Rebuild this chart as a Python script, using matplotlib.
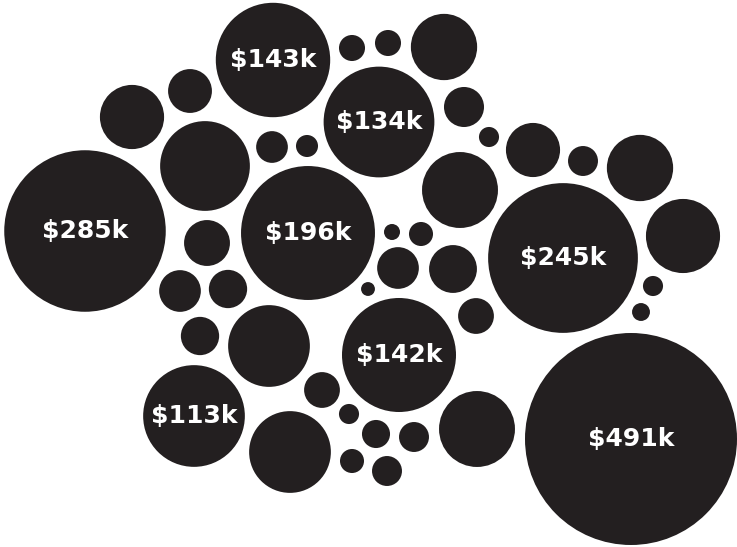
# bubble_cluster.py
# Packed bubble cluster of dollar amounts (area scaled to value)

import matplotlib
matplotlib.use("Agg")
import matplotlib.pyplot as plt
from matplotlib.patches import Circle
import numpy as np

# ---------------- data (values in $k)
values = [143, 7.4, 21, 45, 88, 11, 5.3, 134, 285, 23,
          196, 7.4, 48, 17.5, 4.4, 32, 9.8, 48, 63, 245,
          60, 2.8, 6.3, 19, 25, 2.1, 14, 4.4, 3.5, 142,
          19, 16, 16, 73, 113, 14, 4.4, 73, 6.3, 8.6,
          9.8, 9.8, 63, 491]
labels = ["$143k", "", "", "", "", "", "", "$134k", "$285k", "",
          "$196k", "", "", "", "", "", "", "", "", "$245k",
          "", "", "", "", "", "", "", "", "", "$142k",
          "", "", "", "", "$113k", "", "", "", "", "",
          "", "", "", "$491k"]

# ---------------- layout (bubble centres, pixel space of the canvas)
pos_x = [273, 352, 190, 132, 205, 272, 307, 379, 85, 207,
         308, 388, 444, 464, 489, 533, 583, 640, 460, 563,
         683, 392, 421, 398, 453, 368, 476, 653, 641, 399,
         180, 228, 200, 269, 194, 322, 349, 290, 352, 376,
         414, 387, 477, 631]
pos_y = [60, 48, 91, 117, 166, 147, 146, 122, 231, 243,
         233, 43, 47, 107, 137, 150, 161, 168, 190, 258,
         236, 232, 234, 268, 269, 289, 316, 286, 312, 355,
         291, 289, 336, 346, 416, 390, 414, 452, 461, 434,
         437, 471, 429, 439]

BUBBLE = "#231f20"
R_MAX = 106  # radius of the largest bubble

if __name__ == "__main__":
    fig = plt.figure(figsize=(7.37, 5.47), dpi=100)
    ax = fig.add_axes([0, 0, 1, 1])
    ax.set_xlim(0, 737)
    ax.set_ylim(547, 0)
    ax.set_aspect("equal")
    ax.axis("off")

    vals = np.array(values, dtype=float)
    radii = R_MAX * np.sqrt(vals / vals.max())

    for x, y, r, lab in zip(pos_x, pos_y, radii, labels):
        ax.add_patch(Circle((x, y), r, facecolor=BUBBLE, edgecolor="none"))
        if lab:
            ax.text(x, y, lab, ha="center", va="center", color="white",
                    fontsize=18, fontweight="bold", family="DejaVu Sans")

    plt.savefig("out.png", dpi=100)
